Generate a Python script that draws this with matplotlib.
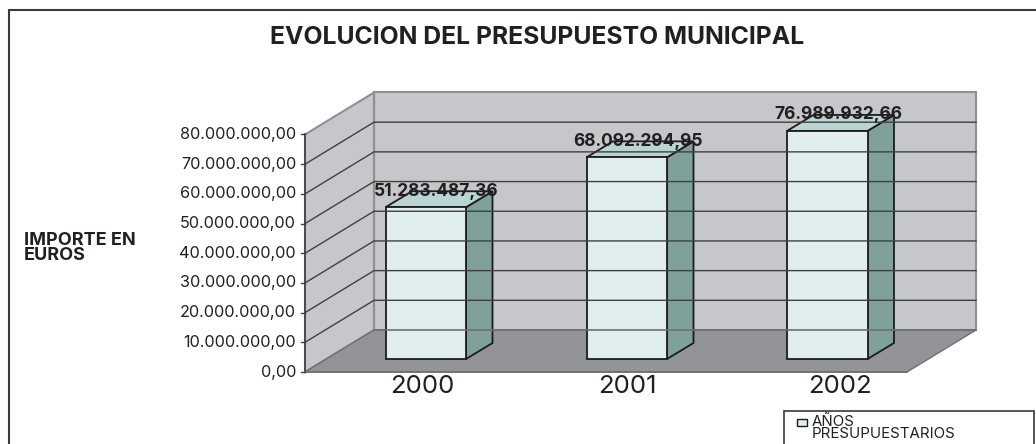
import numpy as np
import matplotlib
matplotlib.use("Agg")
import matplotlib.pyplot as plt
from matplotlib.patches import Polygon, Rectangle

################################
# Data
################################
years = ["2000", "2001", "2002"]
importes = [51283487.36, 68092294.95, 76989932.66]
importe_labels = ["51.283.487,36", "68.092.294,95", "76.989.932,66"]
ticks = [0, 10000000, 20000000, 30000000, 40000000, 50000000, 60000000, 70000000, 80000000]
tick_labels = ["0,00", "10.000.000,00", "20.000.000,00", "30.000.000,00", "40.000.000,00",
               "50.000.000,00", "60.000.000,00", "70.000.000,00", "80.000.000,00"]

################################
# Geometry in pixels of the picture
################################
W, H = 1036, 444
x0 = 305.0      # front left of the wall
x1 = 907.0      # front right of the floor
y0 = 372.0      # front zero line
y_top = 134.5   # front 80M line
dx = 69.0       # depth of the box
dy = 42.0
bar_left = [385.5, 586.5, 787.0]
year_x = [422, 627, 840]
bar_w = 80.5
bdx = 26.5      # depth of the bars
bdy = 16.0
bar_y0 = 359.0

plt.rcParams['font.family'] = ['Inter', 'Liberation Sans', 'DejaVu Sans']
fig = plt.figure(figsize=(W / 100, H / 100), dpi=100)
ax = fig.add_axes([0, 0, 1, 1])
ax.set_xlim(0, W)
ax.set_ylim(H, 0)
ax.axis("off")

# Outer frame, it runs off the picture on the right and at the bottom
ax.add_patch(Rectangle((9, 10), 1100, 500, fc="white", ec="#3a3a3a", lw=1.5))

# Walls and floor
wall = "#c6c7ca"
edge = "#8f9093"
ax.add_patch(Polygon([(x0 + dx, y_top - dy), (x1 + dx, y_top - dy), (x1 + dx, y0 - dy), (x0 + dx, y0 - dy)],
                     fc=wall, ec=edge, lw=1.5))
ax.add_patch(Polygon([(x0, y_top), (x0 + dx, y_top - dy), (x0 + dx, y0 - dy), (x0, y0)],
                     fc=wall, ec=edge, lw=1.5))
ax.add_patch(Polygon([(x0, y0), (x1, y0), (x1 + dx, y0 - dy), (x0 + dx, y0 - dy)],
                     fc="#939497", ec="#6f7072", lw=1))

# Gridlines
for t in ticks[1:-1]:
    y = y0 - (y0 - y_top) * t / 80000000.0
    ax.plot([x0, x0 + dx, x1 + dx], [y, y - dy, y - dy], color="#3f4042", lw=1)
ax.plot([x0 + dx, x1 + dx], [y0 - dy, y0 - dy], color="#6f7072", lw=1.2)

# Axis and ticks
ax.plot([x0, x0], [y_top, y0], color="#3f4042", lw=1.2)
ax.plot([x0, x1], [y0, y0], color="#6f7072", lw=1.2)
for t, lab in zip(ticks, tick_labels):
    y = y0 - (y0 - y_top) * t / 80000000.0
    ax.plot([x0 - 4, x0], [y, y], color="#3f4042", lw=1)
    ax.text(x0 - 9, y, lab, ha="right", va="center", fontsize=11.7, color="#231f20")

# Bars
line = "#1c1c1c"
for left, v, lab, yr, xr in zip(bar_left, importes, importe_labels, years, year_x):
    top = y0 - (y0 - y_top) * v / 80000000.0 - 12.5
    ax.add_patch(Polygon([(left + bar_w, bar_y0), (left + bar_w + bdx, bar_y0 - bdy),
                          (left + bar_w + bdx, top - bdy), (left + bar_w, top)],
                         fc="#80a09c", ec=line, lw=1.3))
    ax.add_patch(Polygon([(left, top), (left + bar_w, top), (left + bar_w + bdx, top - bdy), (left + bdx, top - bdy)],
                         fc="#b8d5d3", ec=line, lw=1.3))
    ax.add_patch(Rectangle((left, top), bar_w, bar_y0 - top, fc="#e0efee", ec=line, lw=1.3))
    ax.text(left + 51, top - 16, lab, ha="center", va="center", fontsize=12.5, fontweight="bold", color="#231f20")
    ax.text(xr, 386, yr, ha="center", va="center", fontsize=18.5, color="#231f20")

# Titles
ax.text(537, 37, "EVOLUCION DEL PRESUPUESTO MUNICIPAL", ha="center", va="center",
        fontsize=17.8, fontweight="bold", color="#231f20")
ax.text(24, 248, "IMPORTE EN\nEUROS", ha="left", va="center", fontsize=13, fontweight="bold",
        color="#231f20", linespacing=0.78)

# Legend
ax.add_patch(Rectangle((784, 411), 250, 40, fc="white", ec="#3a3a3a", lw=1.2))
ax.add_patch(Rectangle((797, 419), 10, 7, fc="#e0efee", ec=line, lw=1))
ax.text(812, 428, "AÑOS\nPRESUPUESTARIOS", ha="left", va="center", fontsize=10.8,
        color="#231f20", linespacing=0.8)

fig.savefig("out.png", dpi=100)
